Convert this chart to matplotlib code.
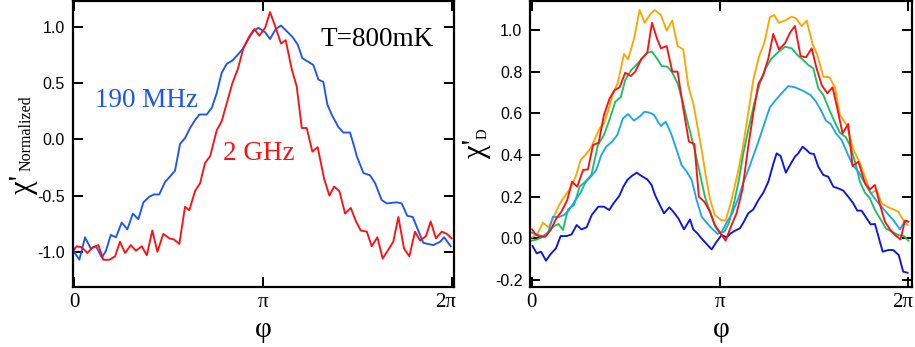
import numpy as np
import matplotlib
matplotlib.use("Agg")
import matplotlib.pyplot as plt
import matplotlib.transforms as mtransforms

plt.rcParams['axes.unicode_minus'] = False

# ---------------- Left panel data (phi in units of pi) ----------------
blue_phi = [0.0, 0.028, 0.058, 0.088, 0.116, 0.147, 0.169, 0.194, 0.222, 0.252, 0.282, 0.311,
            0.340, 0.367, 0.398, 0.423, 0.451, 0.481, 0.508, 0.534, 0.561, 0.587, 0.614, 0.640,
            0.663, 0.702, 0.729, 0.755, 0.781, 0.808, 0.838, 0.866, 0.896, 0.922, 0.949, 0.975,
            1.011, 1.037, 1.067, 1.095, 1.125, 1.155, 1.184, 1.208, 1.237, 1.266, 1.293, 1.319,
            1.340, 1.363, 1.398, 1.425, 1.460, 1.478, 1.496, 1.531, 1.566, 1.593, 1.628, 1.655,
            1.707, 1.734, 1.763, 1.792, 1.831, 1.848, 1.901, 1.937, 1.958, 1.993]
blue_val = [-1.00, -1.07, -0.87, -0.97, -0.95, -1.05, -0.99, -0.85, -0.87, -0.74, -0.80, -0.66,
            -0.71, -0.56, -0.51, -0.49, -0.49, -0.38, -0.33, -0.28, -0.04, 0.01, 0.10, 0.17,
            0.22, 0.22, 0.28, 0.41, 0.59, 0.67, 0.70, 0.75, 0.81, 0.89, 0.96, 0.99,
            0.95, 0.89, 0.98, 1.01, 0.96, 0.91, 0.84, 0.72, 0.69, 0.66, 0.53, 0.51,
            0.31, 0.22, 0.11, 0.06, 0.06, -0.04, -0.15, -0.30, -0.32, -0.39, -0.54, -0.57,
            -0.56, -0.57, -0.68, -0.69, -0.85, -0.92, -0.94, -0.91, -0.87, -0.95]

red_phi = [0.0, 0.014, 0.041, 0.070, 0.099, 0.129, 0.155, 0.187, 0.217, 0.243, 0.270, 0.300,
           0.328, 0.358, 0.385, 0.414, 0.441, 0.472, 0.504, 0.529, 0.557, 0.587, 0.610, 0.640,
           0.667, 0.693, 0.720, 0.755, 0.781, 0.808, 0.838, 0.866, 0.896, 0.926, 0.954, 0.980,
           1.011, 1.037, 1.067, 1.095, 1.120, 1.152, 1.178, 1.205, 1.231, 1.261, 1.289, 1.323,
           1.351, 1.376, 1.404, 1.434, 1.464, 1.492, 1.517, 1.549, 1.575, 1.605, 1.633, 1.663,
           1.689, 1.716, 1.746, 1.774, 1.804, 1.831, 1.862, 1.887, 1.915, 1.946, 1.972, 1.998]
red_val = [-0.98, -0.95, -0.96, -1.01, -0.96, -0.94, -1.07, -1.07, -1.04, -0.91, -1.01, -0.94,
           -0.99, -0.95, -1.03, -0.81, -1.00, -0.84, -0.88, -0.89, -0.93, -0.60, -0.63, -0.46,
           -0.39, -0.21, -0.15, 0.08, 0.16, 0.32, 0.50, 0.62, 0.81, 0.91, 0.98, 0.92,
           0.99, 1.13, 0.99, 0.85, 0.88, 0.62, 0.47, 0.10, 0.10, -0.11, -0.07, -0.35,
           -0.50, -0.42, -0.46, -0.66, -0.61, -0.73, -0.81, -0.82, -0.95, -0.87, -1.06, -0.98,
           -0.91, -0.69, -0.97, -1.04, -0.82, -0.90, -0.86, -0.73, -0.88, -0.82, -0.84, -0.88]

# ---------------- Right panel data (phi in units of pi) ----------------
orange_phi = [0.002, 0.030, 0.060, 0.090, 0.119, 0.149, 0.179, 0.207, 0.237, 0.260, 0.285, 0.313,
              0.335, 0.361, 0.384, 0.405, 0.432, 0.458, 0.490, 0.512, 0.543, 0.573, 0.600, 0.627,
              0.653, 0.687, 0.717, 0.747, 0.775, 0.805, 0.832, 0.858, 0.881, 0.903, 0.924, 0.947,
              0.973, 1.005, 1.030, 1.058, 1.094, 1.119, 1.150, 1.177, 1.207, 1.235, 1.265, 1.288,
              1.313, 1.345, 1.381, 1.404, 1.434, 1.460, 1.492, 1.517, 1.549, 1.581, 1.611, 1.637,
              1.673, 1.708, 1.740, 1.770, 1.800, 1.832, 1.858, 1.888, 1.920, 1.947, 1.973, 1.996]
orange_val = [0.005, 0.021, 0.075, 0.053, 0.107, 0.165, 0.208, 0.240, 0.304, 0.376, 0.400, 0.432,
              0.475, 0.528, 0.552, 0.608, 0.696, 0.747, 0.885, 0.859, 0.955, 1.096, 1.035, 1.072,
              1.096, 1.072, 0.997, 1.045, 0.923, 0.907, 0.731, 0.648, 0.536, 0.424, 0.304, 0.187,
              0.112, 0.088, 0.085, 0.171, 0.312, 0.424, 0.600, 0.760, 0.872, 0.936, 1.061, 1.072,
              1.035, 1.045, 1.064, 1.056, 1.019, 1.045, 0.933, 0.880, 0.776, 0.773, 0.725, 0.592,
              0.544, 0.427, 0.368, 0.296, 0.216, 0.232, 0.168, 0.152, 0.139, 0.128, 0.088, 0.064]

red2_phi = [0.002, 0.019, 0.042, 0.073, 0.101, 0.131, 0.158, 0.189, 0.214, 0.242, 0.273, 0.299,
            0.326, 0.356, 0.384, 0.414, 0.441, 0.467, 0.497, 0.526, 0.550, 0.582, 0.614, 0.639,
            0.667, 0.687, 0.717, 0.747, 0.775, 0.805, 0.835, 0.864, 0.888, 0.917, 0.947, 0.973,
            1.005, 1.030, 1.058, 1.088, 1.119, 1.150, 1.177, 1.204, 1.230, 1.257, 1.283, 1.313,
            1.345, 1.372, 1.398, 1.428, 1.457, 1.487, 1.513, 1.540, 1.570, 1.598, 1.623, 1.651,
            1.681, 1.704, 1.735, 1.770, 1.796, 1.823, 1.850, 1.876, 1.903, 1.929, 1.959, 1.982, 2.000]
red2_val = [0.043, 0.021, 0.008, 0.008, 0.040, 0.096, 0.128, 0.184, 0.272, 0.248, 0.328, 0.331,
            0.448, 0.459, 0.592, 0.672, 0.712, 0.725, 0.795, 0.779, 0.800, 0.859, 0.891, 1.035,
            0.955, 0.912, 0.923, 0.800, 0.800, 0.624, 0.464, 0.453, 0.200, 0.176, 0.128, 0.064,
            0.021, -0.011, 0.056, 0.120, 0.232, 0.440, 0.600, 0.741, 0.784, 0.864, 0.981, 0.907,
            0.936, 0.987, 1.019, 0.875, 0.869, 0.912, 0.816, 0.736, 0.696, 0.725, 0.624, 0.504,
            0.549, 0.347, 0.368, 0.264, 0.235, 0.256, 0.160, 0.080, 0.043, 0.016, -0.005, 0.085, 0.080]

green_phi = [0.002, 0.030, 0.060, 0.090, 0.119, 0.143, 0.166, 0.193, 0.225, 0.255, 0.285, 0.317,
             0.352, 0.384, 0.414, 0.444, 0.473, 0.497, 0.529, 0.561, 0.586, 0.614, 0.639, 0.671,
             0.690, 0.722, 0.747, 0.775, 0.805, 0.832, 0.864, 0.894, 0.920, 0.947, 0.973, 1.000,
             1.023, 1.048, 1.076, 1.101, 1.124, 1.154, 1.182, 1.212, 1.242, 1.274, 1.306, 1.345,
             1.381, 1.411, 1.439, 1.469, 1.496, 1.522, 1.549, 1.581, 1.611, 1.637, 1.669, 1.694,
             1.722, 1.743, 1.770, 1.796, 1.823, 1.850, 1.881, 1.912, 1.947, 1.977, 2.000]
green_val = [-0.011, -0.005, 0.008, 0.032, 0.059, 0.069, 0.040, 0.139, 0.160, 0.248, 0.272, 0.304,
             0.448, 0.496, 0.571, 0.656, 0.677, 0.760, 0.808, 0.837, 0.864, 0.891, 0.896, 0.856,
             0.827, 0.824, 0.795, 0.744, 0.648, 0.544, 0.432, 0.309, 0.200, 0.128, 0.059, 0.024,
             0.032, 0.075, 0.176, 0.283, 0.408, 0.536, 0.648, 0.744, 0.816, 0.864, 0.891, 0.920,
             0.912, 0.880, 0.859, 0.832, 0.816, 0.720, 0.688, 0.616, 0.555, 0.507, 0.485, 0.440,
             0.352, 0.272, 0.219, 0.192, 0.136, 0.096, 0.048, 0.032, 0.016, 0.011, -0.011]

lblue_phi = [0.002, 0.034, 0.060, 0.087, 0.113, 0.140, 0.172, 0.196, 0.228, 0.260, 0.285, 0.317,
             0.343, 0.370, 0.396, 0.427, 0.455, 0.485, 0.512, 0.543, 0.573, 0.600, 0.627, 0.650,
             0.671, 0.687, 0.712, 0.740, 0.770, 0.796, 0.823, 0.850, 0.876, 0.903, 0.929, 0.956,
             0.988, 1.009, 1.035, 1.065, 1.097, 1.124, 1.150, 1.182, 1.207, 1.235, 1.265, 1.296,
             1.324, 1.363, 1.398, 1.439, 1.481, 1.510, 1.540, 1.563, 1.588, 1.616, 1.646, 1.673,
             1.704, 1.735, 1.765, 1.796, 1.828, 1.858, 1.888, 1.920, 1.956, 1.982, 2.000]
lblue_val = [0.027, 0.016, 0.011, 0.024, 0.104, 0.101, 0.112, 0.133, 0.176, 0.219, 0.267, 0.299,
             0.328, 0.400, 0.440, 0.464, 0.496, 0.576, 0.597, 0.565, 0.584, 0.608, 0.603, 0.592,
             0.560, 0.539, 0.560, 0.504, 0.424, 0.352, 0.320, 0.280, 0.184, 0.104, 0.075, 0.048,
             0.021, 0.032, 0.075, 0.120, 0.192, 0.267, 0.328, 0.408, 0.472, 0.549, 0.629, 0.664,
             0.693, 0.731, 0.725, 0.709, 0.688, 0.656, 0.608, 0.565, 0.549, 0.504, 0.472, 0.416,
             0.352, 0.320, 0.272, 0.224, 0.184, 0.152, 0.120, 0.088, 0.043, 0.085, 0.080]

dblue_phi = [0.005, 0.027, 0.050, 0.076, 0.101, 0.129, 0.154, 0.186, 0.212, 0.239, 0.265, 0.292,
             0.319, 0.354, 0.384, 0.412, 0.437, 0.465, 0.487, 0.508, 0.531, 0.558, 0.584, 0.614,
             0.637, 0.655, 0.678, 0.703, 0.731, 0.752, 0.779, 0.809, 0.841, 0.858, 0.880, 0.897,
             0.926, 0.956, 0.982, 1.009, 1.035, 1.057, 1.080, 1.106, 1.127, 1.150, 1.177, 1.204,
             1.230, 1.257, 1.283, 1.301, 1.322, 1.350, 1.372, 1.398, 1.416, 1.439, 1.460, 1.478,
             1.499, 1.522, 1.549, 1.575, 1.602, 1.628, 1.655, 1.681, 1.708, 1.729, 1.752, 1.779,
             1.800, 1.823, 1.864, 1.894, 1.920, 1.949, 1.973, 1.996]
dblue_val = [-0.037, -0.072, -0.064, -0.107, -0.075, -0.048, 0.011, 0.011, 0.019, 0.064, 0.043, 0.053,
             0.112, 0.152, 0.152, 0.136, 0.171, 0.203, 0.248, 0.280, 0.299, 0.315, 0.299, 0.283,
             0.256, 0.208, 0.165, 0.120, 0.149, 0.128, 0.096, 0.043, 0.091, 0.043, 0.024, 0.005,
             -0.024, -0.053, -0.016, 0.016, 0.005, 0.024, 0.037, 0.048, 0.080, 0.120, 0.139, 0.184,
             0.219, 0.272, 0.357, 0.408, 0.395, 0.315, 0.352, 0.392, 0.408, 0.440, 0.424, 0.408,
             0.405, 0.344, 0.304, 0.296, 0.248, 0.240, 0.229, 0.200, 0.168, 0.133, 0.133, 0.096,
             0.067, 0.069, -0.064, -0.056, -0.056, -0.080, -0.160, -0.165]

left_yticks = [-1.0, -0.5, 0.0, 0.5, 1.0]
right_yticks = [-0.2, 0.0, 0.2, 0.4, 0.6, 0.8, 1.0]
xtick_labels = ["0", "π", "2π"]

C_BLUE = "#1b55f7"
C_RED = "#ff1010"
C_ORANGE = "#ffa500"
C_GREEN = "#1cbf63"
C_LBLUE = "#1aa6f5"
C_DBLUE = "#0a14e6"

SERIF = "Liberation Serif"
SANS = "Liberation Sans"

W, H = 915, 347
fig = plt.figure(figsize=(W / 100, H / 100), dpi=100)
axL = fig.add_axes([0.0795, 0.1729, 0.4167, 0.8242])
axR = fig.add_axes([0.5792, 0.1720, 0.4172, 0.8250])


def style(ax, yticks):
    for s in ax.spines.values():
        s.set_linewidth(1.6)
    ax.set_xticks([0, np.pi, 2 * np.pi])
    ax.set_xticklabels(xtick_labels, fontfamily=SERIF, fontsize=15)
    ax.set_yticks(yticks)
    ax.set_yticklabels([f"{v:.1f}" for v in yticks], fontfamily=SANS, fontsize=11.5)
    ax.tick_params(direction='in', length=7, width=1.4, top=True, right=True,
                   labeltop=False, labelright=False)
    ax.tick_params(axis='y', pad=5.5)
    ax.tick_params(axis='x', pad=4)
    # shift the "2π" label slightly left, as in the reference
    lab = ax.get_xticklabels()[-1]
    lab.set_transform(lab.get_transform() +
                      mtransforms.ScaledTranslation(-6 / 100, 0, fig.dpi_scale_trans))
    ax.text(0.5, -0.15, "φ", transform=ax.transAxes, ha='center', va='center',
            fontfamily=SERIF, fontsize=21)


def ftext(px, py, s, **kw):
    fig.text(px / W, 1 - py / H, s, **kw)


lw = 1.35
axL.plot(np.array(blue_phi) * np.pi, blue_val, color=C_BLUE, lw=lw)
axL.plot(np.array(red_phi) * np.pi, red_val, color=C_RED, lw=lw)
axL.set_xlim(-0.022, 2 * np.pi + 0.033)
axL.set_ylim(-1.312, 1.228)
style(axL, left_yticks)
axL.text(0.058, 0.630, "190 MHz", transform=axL.transAxes, color=C_BLUE,
         fontfamily=SERIF, fontsize=19.5, ha='left', va='baseline')
axL.text(0.393, 0.444, "2 GHz", transform=axL.transAxes, color=C_RED,
         fontfamily=SERIF, fontsize=19.5, ha='left', va='baseline')
axL.text(0.650, 0.844, "T=800mK", transform=axL.transAxes, color='black',
         fontfamily=SERIF, fontsize=19.5, ha='left', va='baseline')
# y label: χ'_Normalized
ftext(23, 194, "χ'", rotation=90, ha='center', va='bottom', fontfamily=SERIF, fontsize=22)
ftext(27, 171, "Normalized", rotation=90, ha='center', va='bottom', fontfamily=SERIF, fontsize=11.5)

for phi, val, c in [(orange_phi, orange_val, C_ORANGE), (green_phi, green_val, C_GREEN),
                    (lblue_phi, lblue_val, C_LBLUE), (dblue_phi, dblue_val, C_DBLUE),
                    (red2_phi, red2_val, C_RED)]:
    axR.plot(np.array(phi) * np.pi, val, color=c, lw=lw)
axR.set_xlim(-0.028, 2 * np.pi + 0.057)
axR.set_ylim(-0.235, 1.139)
style(axR, right_yticks)
# y label: χ'_D
ftext(477, 158, "χ'", rotation=90, ha='center', va='bottom', fontfamily=SERIF, fontsize=22)
ftext(483, 139, "D", rotation=90, ha='center', va='bottom', fontfamily=SERIF, fontsize=10.5)

fig.savefig("out.png", dpi=100)
